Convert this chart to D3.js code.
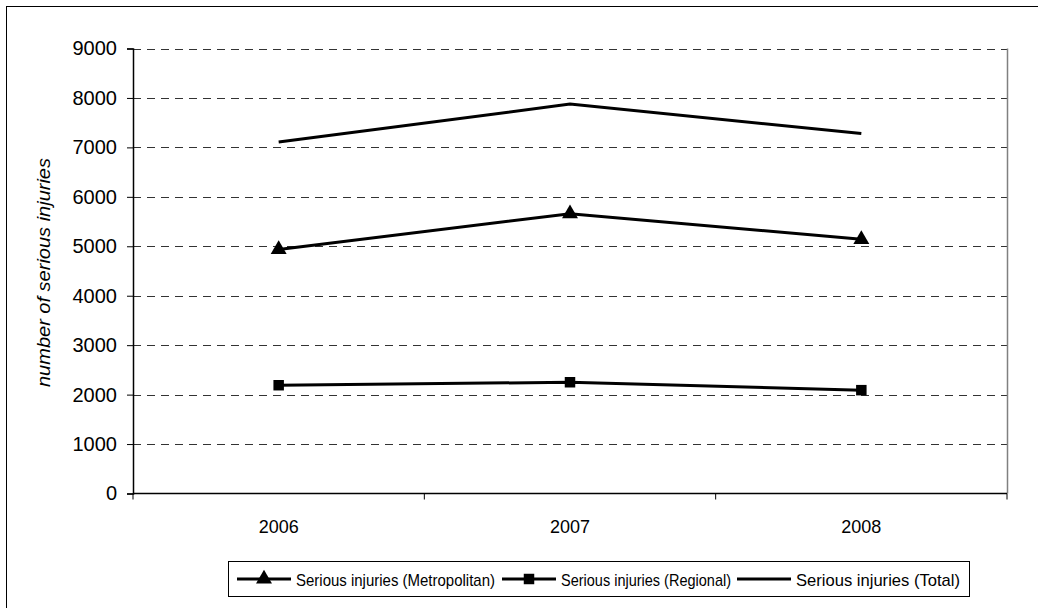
<!DOCTYPE html>
<html><head><meta charset="utf-8">
<script src="https://cdn.jsdelivr.net/npm/d3@7"></script>
<style>body{margin:0;background:#fff}svg{display:block;font-family:"Liberation Sans",Arial,sans-serif}</style>
</head><body><svg id="c" width="1038" height="608"></svg>
<script>
const years = ["2006", "2007", "2008"];
const metropolitan = [4935, 5660, 5140];
const regional = [2190, 2250, 2090];
const total = [7110, 7875, 7280];
const yTicks = [0, 1000, 2000, 3000, 4000, 5000, 6000, 7000, 8000, 9000];
const seriesNames = ["Serious injuries (Metropolitan)", "Serious injuries (Regional)", "Serious injuries (Total)"];

const svg = d3.select("#c");
const W = 1038, H = 608;
const m = {l: 133, r: 1007, t: 48.5, b: 493.5};

svg.append("rect").attr("x", 6.5).attr("y", 6.5).attr("width", W).attr("height", H)
  .attr("fill", "#fff").attr("stroke", "#000").attr("stroke-width", 1);

const x = d3.scaleBand().domain(years).range([m.l, m.r]);
const y = d3.scaleLinear().domain([0, 9000]).range([m.b, m.t]);

// gridlines
svg.append("g").selectAll("line").data(yTicks.filter(d => d > 0)).join("line")
  .attr("x1", m.l).attr("x2", m.r).attr("y1", d => Math.round(y(d)) + 0.5).attr("y2", d => Math.round(y(d)) + 0.5)
  .attr("stroke", "#333").attr("stroke-dasharray", "8,6").attr("stroke-width", 1);

// right plot border
svg.append("line").attr("x1", m.r + 0.5).attr("x2", m.r + 0.5).attr("y1", m.t).attr("y2", m.b)
  .attr("stroke", "#808080").attr("stroke-width", 1.5);

// y axis
const ya = svg.append("g").attr("transform", `translate(${m.l},0)`)
  .call(d3.axisLeft(y).tickValues(yTicks).tickSize(6).tickPadding(10).tickFormat(d3.format("d")));
ya.select(".domain").attr("stroke", "#000").attr("stroke-width", 1.5);
ya.selectAll(".tick line").attr("stroke", "#000");
ya.selectAll("text").attr("font-size", 20).attr("fill", "#000").attr("font-family", "Liberation Sans, Arial, sans-serif");

// x axis
const xa = svg.append("g").attr("transform", `translate(0,${m.b})`);
xa.append("line").attr("x1", m.l).attr("x2", m.r).attr("y1", 0).attr("y2", 0).attr("stroke", "#000").attr("stroke-width", 1.5);
const bounds = years.map(d => x(d)).concat([m.r]);
xa.selectAll("line.t").data(bounds).join("line").attr("class", "t")
  .attr("x1", d => d).attr("x2", d => d).attr("y1", 0).attr("y2", 6).attr("stroke", "#000");
xa.selectAll("text").data(years).join("text")
  .attr("x", d => x(d) + x.bandwidth() / 2).attr("y", 39).attr("text-anchor", "middle")
  .attr("font-size", 19).attr("textLength", 40).attr("lengthAdjust", "spacingAndGlyphs").text(d => d);

// y title
svg.append("text").attr("transform", `translate(50,272.5) rotate(-90)`)
  .attr("text-anchor", "middle").attr("font-style", "italic").attr("font-size", 19)
  .attr("textLength", 229).attr("lengthAdjust", "spacingAndGlyphs")
  .text("number of serious injuries");

const cx = d => x(d) + x.bandwidth() / 2;
const line = d3.line().x((d, i) => cx(years[i])).y(d => y(d));
const data = [metropolitan, regional, total];
const markers = ["tri", "sq", "none"];
data.forEach((s, k) => {
  svg.append("path").datum(s).attr("d", line).attr("fill", "none").attr("stroke", "#000").attr("stroke-width", 3);
});
const tri = d3.symbol().type(d3.symbolTriangle).size(110);
const sq = d3.symbol().type(d3.symbolSquare).size(110);
svg.append("g").selectAll("path").data(metropolitan).join("path")
  .attr("d", tri).attr("transform", (d, i) => `translate(${cx(years[i])},${y(d)})`).attr("fill", "#000");
svg.append("g").selectAll("path").data(regional).join("path")
  .attr("d", sq).attr("transform", (d, i) => `translate(${cx(years[i])},${y(d)})`).attr("fill", "#000");

// legend
const lg = svg.append("g");
lg.append("rect").attr("x", 228.5).attr("y", 561.5).attr("width", 741).attr("height", 35)
  .attr("fill", "#fff").attr("stroke", "#000").attr("stroke-width", 1);
const legX = [237, 502, 737];
const legW = [199, 170, 164];
seriesNames.forEach((n, k) => {
  const g = lg.append("g").attr("transform", `translate(${legX[k]},579)`);
  g.append("line").attr("x1", 0).attr("x2", 54).attr("stroke", "#000").attr("stroke-width", 3);
  if (markers[k] === "tri") g.append("path").attr("d", tri).attr("transform", "translate(27,0)");
  if (markers[k] === "sq") g.append("path").attr("d", sq).attr("transform", "translate(27,0)");
  g.append("text").attr("x", 59).attr("y", 6.5).attr("font-size", 17)
    .attr("textLength", legW[k]).attr("lengthAdjust", "spacingAndGlyphs").text(n);
});
</script></body></html>
